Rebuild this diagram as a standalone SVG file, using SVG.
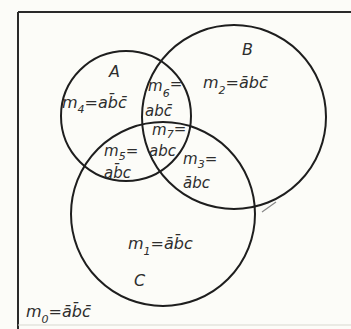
<svg xmlns="http://www.w3.org/2000/svg" width="351" height="329" viewBox="0 0 351 329">
<style>
.c{fill:none;stroke:#1e1e1e;stroke-width:2}
.f{fill:none;stroke:#2a2a2a;stroke-width:2}
.t{font-family:"DejaVu Sans",sans-serif;font-style:italic;font-size:16px;fill:#2e2e2e}
.k{font-size:15px}
.s{font-size:11px}
</style>
<rect width="351" height="329" fill="#fcfcf8"/>
<g id="frame">
<path class="f" d="M18 12 H351 M18 12 V329"/>
<path d="M18 325 H351" stroke="#d8d8d0" stroke-width="1" fill="none"/>
</g>
<g id="connectors">
<circle id="circleA" class="c" cx="126" cy="116" r="65"/>
<circle id="circleB" class="c" cx="234" cy="117" r="92"/>
<circle id="circleC" class="c" cx="163" cy="214" r="92"/>
<path d="M262 212 L276 202" stroke="#888" stroke-width="1.2" fill="none"/>
</g>
<g id="A">
<text class="t" x="109" y="77">A</text>
<text class="t" x="62" y="108">m<tspan class="s" dy="5">4</tspan><tspan dy="-5">=ab̄c̄</tspan></text>
</g>
<g id="B">
<text class="t" x="242" y="55">B</text>
<text class="t" x="203" y="88">m<tspan class="s" dy="6">2</tspan><tspan dy="-6">=ābc̄</tspan></text>
</g>
<g id="m6">
<text class="t k" x="148" y="91">m<tspan class="s" dy="6">6</tspan><tspan dy="-8">=</tspan></text>
<text class="t k" x="145" y="116">abc̄</text>
</g>
<g id="m7">
<text class="t k" x="152" y="135">m<tspan class="s" dy="3">7</tspan><tspan dy="-4">=</tspan></text>
<text class="t k" x="149" y="156">abc</text>
</g>
<g id="m5">
<text class="t k" x="104" y="156">m<tspan class="s" dy="4">5</tspan><tspan dy="-4">=</tspan></text>
<text class="t k" x="104" y="178">ab̄c</text>
</g>
<g id="m3">
<text class="t k" x="183" y="164">m<tspan class="s" dy="4">3</tspan><tspan dy="-4">=</tspan></text>
<text class="t k" x="183" y="188">ābc</text>
</g>
<g id="C">
<text class="t" x="134" y="286">C</text>
<text class="t" x="128" y="249">m<tspan class="s" dy="6">1</tspan><tspan dy="-6">=āb̄c</tspan></text>
</g>
<g id="m0">
<text class="t" x="26" y="317">m<tspan class="s" dy="6">0</tspan><tspan dy="-6">=āb̄c̄</tspan></text>
</g>
</svg>
